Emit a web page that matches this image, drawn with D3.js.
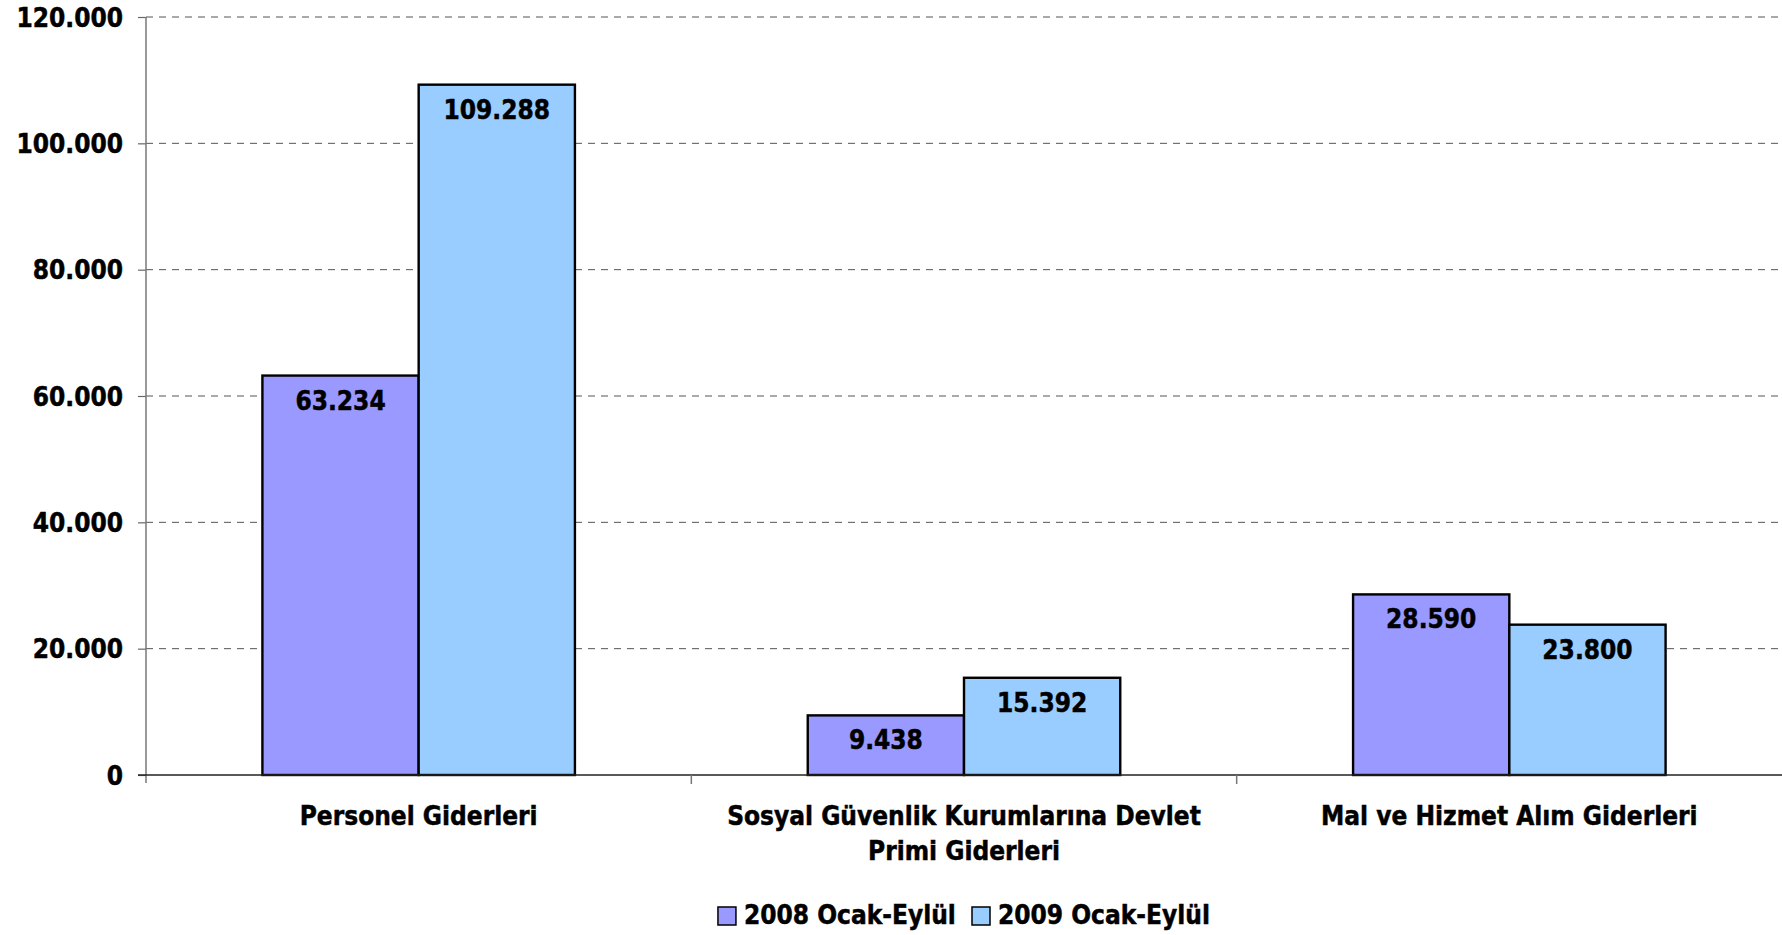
<!DOCTYPE html>
<html>
<head>
<meta charset="utf-8">
<script src="https://cdn.jsdelivr.net/npm/d3@7"></script>
<style>
  html, body { margin: 0; padding: 0; background: #fff; }
  svg { display: block; }
  text { font-family: "DejaVu Sans", Verdana, sans-serif; font-weight: bold; fill: #000; stroke: #000; stroke-width: 0.5px; }
</style>
</head>
<body>
<svg id="chart" width="1782" height="935"></svg>
<script>
// ---- data ----
const categories = ["Personel Giderleri", "Sosyal Güvenlik Kurumlarına Devlet Primi Giderleri", "Mal ve Hizmet Alım Giderleri"];
const seriesNames = ["2008 Ocak-Eylül", "2009 Ocak-Eylül"];
const values2008 = [63234, 9438, 28590];
const values2009 = [109288, 15392, 23800];
const yTicks = [0, 20000, 40000, 60000, 80000, 100000, 120000];
const colors = ["#9999FF", "#99CCFF"];

const seriesValues = [values2008, values2009];

// ---- layout ----
const plotLeft = 146, plotRight = 1782, plotTop = 17, plotBottom = 775;
const FS = 26, SX = 0.9;

const svg = d3.select("#chart");
const trLocale = d3.formatLocale({ decimal: ",", thousands: ".", grouping: [3], currency: ["", " TL"] });
const fmt = trLocale.format(",d");

const x0 = d3.scaleBand().domain(categories).range([plotLeft, plotRight]).paddingInner(0).paddingOuter(0);
const x1 = d3.scaleBand().domain(seriesNames).range([0, x0.bandwidth()]).paddingInner(0).paddingOuter(0.745);
const y = d3.scaleLinear().domain([0, 120000]).range([plotBottom, plotTop]);

function sText(parent, x, yy, str, anchor) {
  const g = parent.append("g").attr("transform", `translate(${x},${yy}) scale(${SX},1)`);
  const t = g.append("text").attr("x", 0).attr("y", 0).attr("text-anchor", anchor || "middle")
    .attr("font-size", FS).text(str);
  return t;
}

// gridlines
svg.append("g").selectAll("line").data(yTicks.filter(d => d > 0)).join("line")
  .attr("x1", plotLeft).attr("x2", plotRight)
  .attr("y1", d => y(d)).attr("y2", d => y(d))
  .attr("stroke", "#555").attr("stroke-width", 1).attr("stroke-dasharray", "7,6");

// y axis
const yAxis = d3.axisLeft(y).tickValues(yTicks).tickSize(8).tickFormat("");
const yg = svg.append("g").attr("transform", `translate(${plotLeft},0)`).call(yAxis);
yg.select(".domain").remove();
yg.selectAll(".tick line").attr("stroke", "#666").attr("stroke-width", 1.2);
svg.append("line").attr("x1", plotLeft).attr("x2", plotLeft).attr("y1", plotTop).attr("y2", plotBottom + 8)
  .attr("stroke", "#777").attr("stroke-width", 1.5);
yTicks.forEach(v => sText(svg, 123, y(v) + 9.5, fmt(v), "end"));

// bars
const groups = svg.append("g").selectAll("g").data(categories).join("g")
  .attr("transform", d => `translate(${x0(d)},0)`);
groups.each(function (cat, ci) {
  const g = d3.select(this);
  seriesNames.forEach((s, si) => {
    const v = seriesValues[si][ci];
    g.append("rect")
      .attr("x", x1(s)).attr("width", x1.bandwidth())
      .attr("y", y(v)).attr("height", y(0) - y(v))
      .attr("fill", colors[si]).attr("stroke", "#000").attr("stroke-width", 2.4);
  });
});

// x axis
svg.append("line").attr("x1", plotLeft - 8).attr("x2", plotRight).attr("y1", plotBottom).attr("y2", plotBottom)
  .attr("stroke", "#222").attr("stroke-width", 1.5);
const xAxisTicks = categories.slice(1).map(c => x0(c));
svg.append("g").selectAll("line").data(xAxisTicks).join("line")
  .attr("x1", d => d).attr("x2", d => d).attr("y1", plotBottom).attr("y2", plotBottom + 9)
  .attr("stroke", "#777").attr("stroke-width", 1.5);

// data labels
categories.forEach((cat, ci) => {
  seriesNames.forEach((s, si) => {
    const v = seriesValues[si][ci];
    sText(svg, x0(cat) + x1(s) + x1.bandwidth() / 2, y(v) + 34, fmt(v), "middle");
  });
});

// category labels with wrapping
const measure = svg.append("text").attr("font-size", FS).attr("visibility", "hidden");
function textW(str) { measure.text(str); return measure.node().getComputedTextLength() * SX; }
const maxW = 500;
categories.forEach(cat => {
  const words = cat.split(" ");
  const lines = [];
  let cur = "";
  words.forEach(w => {
    const trial = cur ? cur + " " + w : w;
    if (textW(trial) > maxW && cur) { lines.push(cur); cur = w; } else cur = trial;
  });
  if (cur) lines.push(cur);
  lines.forEach((ln, i) => sText(svg, x0(cat) + x0.bandwidth() / 2, 825 + i * 35, ln, "middle"));
});

// legend
const sw = 18, gapSwText = 8, gapItems = 16;
const itemWidths = seriesNames.map(s => sw + gapSwText + textW(s));
const totalW = d3.sum(itemWidths) + gapItems * (seriesNames.length - 1);
let lx = (plotLeft + plotRight) / 2 - totalW / 2;
const legY = 924;
seriesNames.forEach((s, i) => {
  svg.append("rect").attr("x", lx).attr("y", legY - 17).attr("width", sw).attr("height", sw)
    .attr("fill", colors[i]).attr("stroke", "#000").attr("stroke-width", 1.5);
  sText(svg, lx + sw + gapSwText, legY, s, "start");
  lx += itemWidths[i] + gapItems;
});
measure.remove();
</script>
</body>
</html>
